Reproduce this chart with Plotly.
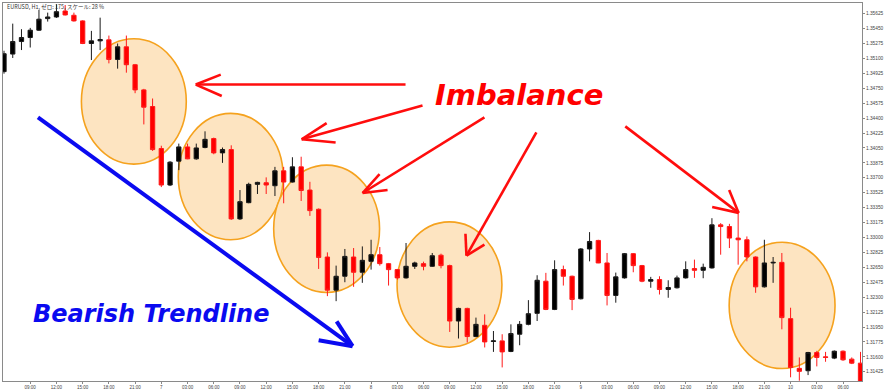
import plotly.graph_objects as go

# ---------------- data (EURUSD H1) ----------------
bar_index = list(range(99))

opens = [1.34945,1.35151,1.35298,1.35345,1.35431,1.35567,1.35586,1.35656,1.35606,1.35540,
1.35275,1.35306,1.35318,1.35088,1.35236,1.35026,1.34731,1.34536,1.34043,1.33615,
1.33895,1.34062,1.33922,1.34055,1.34160,1.33992,1.34031,1.33218,1.33408,1.33623,
1.33642,1.33607,1.33782,1.33650,1.33828,1.33556,1.33331,1.32771,1.32382,1.32545,
1.32771,1.32592,1.32720,1.32798,1.32693,1.32623,1.32526,1.32662,1.32693,1.32662,
1.32792,1.32670,1.32020,1.32168,1.31838,1.31970,1.31780,1.31787,1.31663,1.31865,
1.31981,1.32110,1.32487,1.32156,1.32623,1.32545,1.32281,1.32865,1.32965,1.32701,
1.32320,1.32526,1.32810,1.32670,1.32487,1.32506,1.32390,1.32410,1.32526,1.32635,
1.32615,1.32643,1.33148,1.33128,1.32993,1.32973,1.32771,1.32421,1.32701,1.32708,
1.32048,1.31465,1.31437,1.31651,1.31600,1.31585,1.31666,1.31573,1.31526]

highs = [1.35190,1.35508,1.35443,1.35458,1.35668,1.35637,1.35735,1.35726,1.35637,1.35548,
1.35423,1.35578,1.35368,1.35275,1.35368,1.35035,1.34743,1.34630,1.34076,1.33895,
1.34101,1.34101,1.34101,1.34245,1.34171,1.34055,1.34081,1.33556,1.33642,1.33653,
1.33705,1.33828,1.33828,1.33941,1.33947,1.33653,1.33340,1.32825,1.32670,1.32865,
1.32876,1.32895,1.32973,1.32888,1.32701,1.32631,1.32935,1.32716,1.32716,1.32818,
1.32810,1.32681,1.32176,1.32176,1.32060,1.32098,1.31903,1.31865,1.31981,1.32020,
1.32265,1.32557,1.32585,1.32732,1.32670,1.32553,1.32876,1.33063,1.32973,1.32818,
1.32588,1.32818,1.32818,1.32678,1.32538,1.32545,1.32498,1.32553,1.32720,1.32740,
1.32693,1.33226,1.33168,1.33160,1.33285,1.33012,1.32778,1.32973,1.32771,1.32818,
1.32176,1.31593,1.31658,1.31670,1.31658,1.31675,1.31675,1.31593,1.31658]

lows = [1.34921,1.35105,1.35198,1.35228,1.35423,1.35532,1.35575,1.35604,1.35532,1.35268,
1.35081,1.35198,1.35042,1.34980,1.34933,1.34692,1.34326,1.34015,1.33591,1.33603,
1.33790,1.33918,1.33912,1.34046,1.33976,1.33875,1.33206,1.33206,1.33401,1.33510,
1.33510,1.33486,1.33401,1.33644,1.33428,1.33253,1.32631,1.32312,1.32253,1.32475,
1.32421,1.32468,1.32623,1.32670,1.32436,1.32506,1.32518,1.32631,1.32615,1.32655,
1.32638,1.31892,1.31815,1.31768,1.31830,1.31710,1.31658,1.31476,1.31655,1.31736,
1.31970,1.32020,1.32148,1.32148,1.32436,1.32148,1.32273,1.32720,1.32699,1.32203,
1.32235,1.32518,1.32592,1.32475,1.32410,1.32331,1.32293,1.32401,1.32518,1.32526,
1.32522,1.32635,1.32798,1.32876,1.32681,1.32720,1.32351,1.32413,1.32468,1.31923,
1.31360,1.31320,1.31386,1.31488,1.31542,1.31573,1.31553,1.31515,1.31270]

closes = [1.35155,1.35298,1.35345,1.35431,1.35560,1.35586,1.35648,1.35610,1.35540,1.35275,
1.35306,1.35322,1.35088,1.35236,1.35026,1.34731,1.34528,1.34031,1.33615,1.33883,
1.34062,1.33922,1.34050,1.34151,1.33992,1.34031,1.33218,1.33420,1.33623,1.33646,
1.33615,1.33782,1.33650,1.33828,1.33551,1.33315,1.32766,1.32382,1.32545,1.32778,
1.32592,1.32732,1.32798,1.32693,1.32623,1.32526,1.32662,1.32701,1.32662,1.32786,
1.32670,1.32020,1.32168,1.31838,1.31981,1.31775,1.31787,1.31658,1.31873,1.31981,
1.32106,1.32498,1.32156,1.32623,1.32545,1.32273,1.32865,1.32953,1.32701,1.32320,
1.32538,1.32810,1.32670,1.32487,1.32506,1.32390,1.32413,1.32526,1.32623,1.32615,
1.32650,1.33148,1.33128,1.32993,1.32973,1.32771,1.32421,1.32701,1.32708,1.32060,
1.31476,1.31430,1.31651,1.31593,1.31593,1.31666,1.31565,1.31526,1.31293]

x_tick_index = list(range(3, 99, 3))
x_tick_labels = ["09:00","12:00","15:00","18:00","21:00","7","03:00","06:00","09:00","12:00",
                 "15:00","18:00","21:00","8","03:00","06:00","09:00","12:00","15:00","18:00",
                 "21:00","9","03:00","06:00","09:00","12:00","15:00","18:00","21:00","10",
                 "03:00","06:00"]

y_tick_start = 1.31425
y_tick_step = 0.00175
y_range = [1.313166, 1.35750]
x_range = [-0.114, 98.17]

header_text = "EURUSD, H1, ゼロ: 175, スケール: 28 %"
title_imbalance = "Imbalance"
title_trend = "Bearish Trendline"

# ---------------- layout geometry (pixels) ----------------
W, H = 886, 392
L, R, T, B = 3, 863, 2, 382


def px(x):
    return (x - L) / (R - L)


def py(y):
    return (B - y) / (B - T)


fig = go.Figure()
fig.add_trace(go.Candlestick(
    x=bar_index, open=opens, high=highs, low=lows, close=closes,
    increasing=dict(line=dict(color="#1a1a1a", width=1), fillcolor="#000000"),
    decreasing=dict(line=dict(color="#ff1a1a", width=1), fillcolor="#ff0000"),
    whiskerwidth=0, hoverinfo="skip", showlegend=False,
))

shapes = []
# highlight ellipses (cx, cy, rx, ry) in pixels
ellipses = [(134, 101, 52.5, 63), (231, 176.5, 52.5, 63.5), (327, 229, 53, 64),
            (450, 285, 52.5, 63), (783, 306, 53, 63.5)]
for cx, cy, rx, ry in ellipses:
    shapes.append(dict(type="circle", xref="paper", yref="paper",
                       x0=px(cx - rx), x1=px(cx + rx), y0=py(cy + ry), y1=py(cy - ry),
                       fillcolor="#fde4c1", line=dict(color="#f5a21e", width=1.6),
                       layer="below"))


def arrow(tail, tip, w1, w2, color, width):
    out = []
    for a, b in [(tail, tip), (w1, tip), (w2, tip)]:
        out.append(dict(type="line", xref="paper", yref="paper",
                        x0=px(a[0]), y0=py(a[1]), x1=px(b[0]), y1=py(b[1]),
                        line=dict(color=color, width=width), layer="above"))
    return out


red_arrows = [
    ((406, 84), (196, 84), (221, 74), (222, 95.5)),
    ((423, 105), (302, 139), (327, 122.7), (336, 142.3)),
    ((485, 117), (363, 193), (380, 174), (388, 190)),
    ((537, 132), (467, 256), (466, 234), (485, 245)),
    ((626, 126), (739.5, 213), (713, 207), (730, 190)),
]
for a in red_arrows:
    shapes += arrow(*a, color="#ff0d0d", width=2.6)

shapes += arrow((38, 117), (353, 347), (337, 322), (319, 341), color="#0a0af0", width=4)

annotations = [
    dict(text=header_text, xref="paper", yref="paper", x=px(5), y=py(6),
         xanchor="left", yanchor="middle", showarrow=False,
         font=dict(family="Noto Sans CJK JP", size=5.5, color="#333333")),
    dict(text=title_imbalance, xref="paper", yref="paper", x=px(519.5), y=py(94),
         xanchor="center", yanchor="middle", showarrow=False,
         font=dict(family="DejaVu Sans", size=29, color="#ff0000", weight="bold", style="italic")),
    dict(text=title_trend, xref="paper", yref="paper", x=px(151), y=py(315),
         xanchor="center", yanchor="middle", showarrow=False,
         font=dict(family="DejaVu Sans", size=24, color="#0a0af0", weight="bold", style="italic")),
]

fig.update_layout(
    width=W, height=H,
    margin=dict(l=L, r=W - R, t=T, b=H - B, pad=0),
    paper_bgcolor="white", plot_bgcolor="white",
    showlegend=False, boxgap=0.3,
    shapes=shapes, annotations=annotations,
    xaxis=dict(range=x_range, tickvals=x_tick_index, ticktext=x_tick_labels,
               ticks="outside", ticklen=2, tickcolor="#888888",
               tickfont=dict(family="Liberation Sans", size=4.5, color="#444444"),
               showgrid=False, zeroline=False, showline=True, linecolor="#8a8a8a",
               linewidth=1, mirror=True, rangeslider=dict(visible=False), fixedrange=True),
    yaxis=dict(range=y_range, side="right", tick0=y_tick_start, dtick=y_tick_step,
               tickformat=".5f", ticks="outside", ticklen=2, tickcolor="#888888",
               tickfont=dict(family="Liberation Sans", size=4.8, color="#444444"),
               showgrid=False, zeroline=False, showline=True, linecolor="#8a8a8a",
               linewidth=1, mirror=True, fixedrange=True),
)

fig.write_html("out.html")
